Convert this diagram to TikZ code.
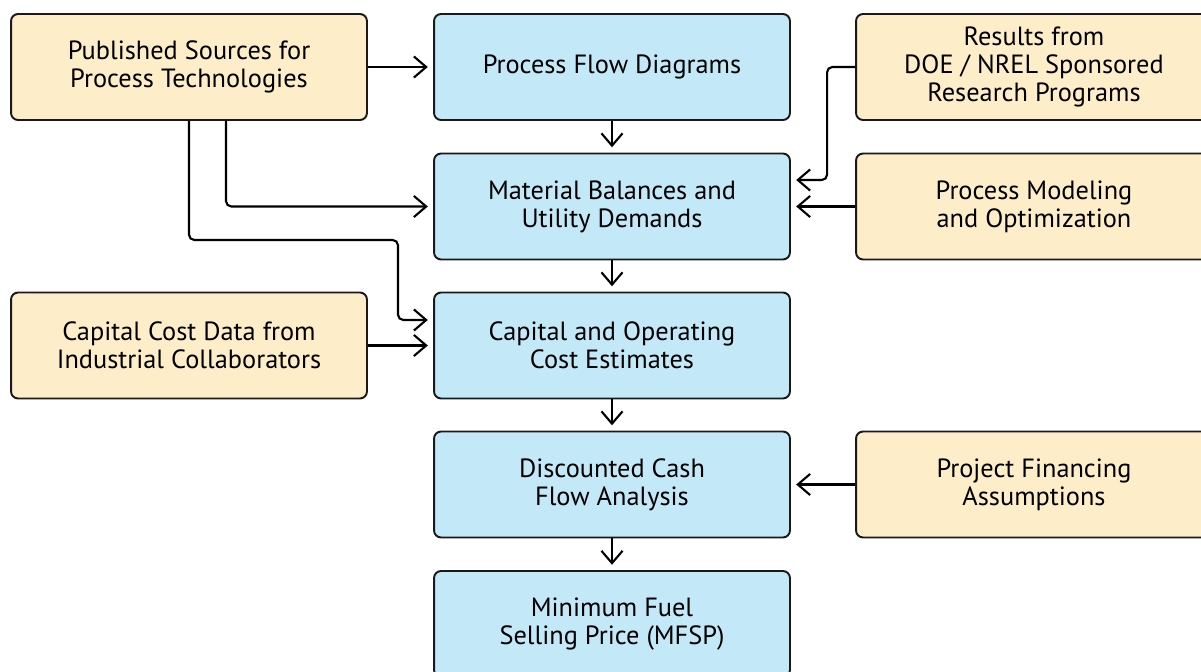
\documentclass[tikz,border=0pt]{standalone}
\usepackage{fontspec}
\setmainfont{PT Sans}
\usetikzlibrary{arrows.meta}

\definecolor{inputcol}{HTML}{FDEEC9}
\definecolor{stagecol}{HTML}{C3E8F7}

\tikzset{
  input/.style={draw=black!90, fill=inputcol, rounded corners=4pt, line width=1.1pt,
    minimum width=7.12cm, minimum height=2.12cm, align=center,
    font=\fontsize{15}{15.8}\selectfont},
  stage/.style={input, fill=stagecol},
  flow/.style={-{Straight Barb[length=7pt,width=12pt,line width=1.2pt]}, line width=1.2pt,
    rounded corners=3pt, shorten >=3pt}
}

\begin{document}
\begin{tikzpicture}[x=0.02cm,y=-0.02cm]
\useasboundingbox (0,0) rectangle (1201,672);

% Center column
\node[stage] (pfd) at (612,67) {Process Flow Diagrams};
\node[stage] (mb) at (612,206.5) {Material Balances and\\Utility Demands};
\node[stage] (capop) at (612,345.5) {Capital and Operating\\Cost Estimates};
\node[stage] (dcf) at (612,484.5) {Discounted Cash\\Flow Analysis};
\node[stage] (mfsp) at (612,624) {Minimum Fuel\\Selling Price (MFSP)};

% Left column
\node[input] (pub) at (189,67) {Published Sources for\\Process Technologies};
\node[input] (capcost) at (189,345.5) {Capital Cost Data from\\Industrial Collaborators};

% Right column
\node[input] (doe) at (1034,67) {Results from\\DOE / NREL Sponsored\\Research Programs};
\node[input] (pm) at (1034,206.5) {Process Modeling\\and Optimization};
\node[input] (pf) at (1034,484.5) {Project Financing\\Assumptions};

% Main chain
\draw[flow] (pfd) -- (mb);
\draw[flow] (mb) -- (capop);
\draw[flow] (capop) -- (dcf);
\draw[flow] (dcf) -- (mfsp);

% Inputs
\coordinate (jog) at (398,240);
\draw[flow] (pub) -- (pfd);
\draw[flow] ([xshift=0.74cm]pub.south) |- (mb.west);
\draw[flow] (pub.south) |- (jog) |- ([yshift=0.51cm]capop.west);
\draw[flow] (capcost) -- (capop);
\draw[flow] (doe.west) -- ++(-28,0) |- ([yshift=0.53cm]mb.east);
\draw[flow] (pm) -- (mb);
\draw[flow] (pf) -- (dcf);
\end{tikzpicture}
\end{document}
